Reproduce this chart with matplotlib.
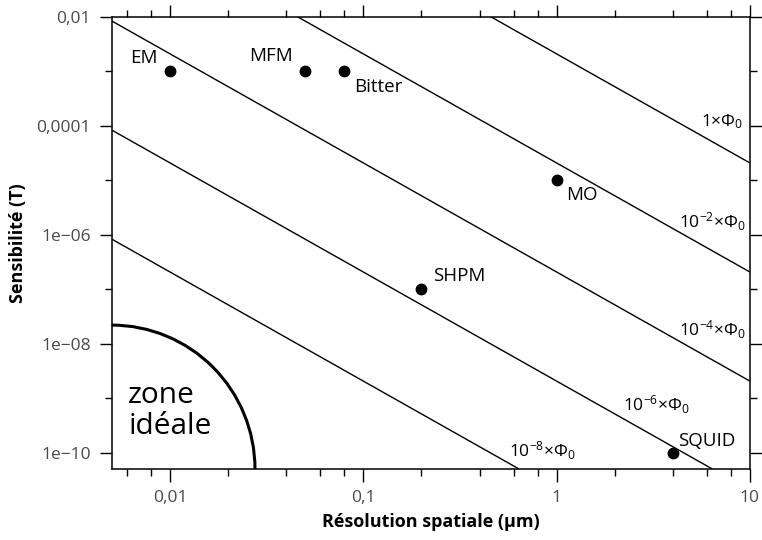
import numpy as np
import matplotlib
matplotlib.use('Agg')
import matplotlib.pyplot as plt
from matplotlib.patches import Arc
from matplotlib.ticker import FixedLocator, FixedFormatter

plt.rcParams['font.family'] = ['Open Sans', 'DejaVu Sans']

# techniques (resolution en um, sensibilite en T)
tech_names = ['EM', 'MFM', 'Bitter', 'MO', 'SHPM', 'SQUID']
tech_res = [0.01, 0.05, 0.08, 1, 0.2, 4]
tech_sens = [1e-3, 1e-3, 1e-3, 1e-5, 1e-7, 1e-10]
# decalage des etiquettes (points), alignement
tech_off = [(-9, 9.5), (-9, 11), (7, -11.5), (7, -11), (8.5, 9.5), (4, 8.5)]
tech_ha = ['right', 'right', 'left', 'left', 'left', 'left']

# lignes de flux constant : extremites
flux_x = [[0.455, 10], [0.0455, 10], [0.005, 10], [0.005, 6.4], [0.005, 0.64]]
flux_y = [[1e-2, 2.07e-5], [1e-2, 2.07e-7], [8.3e-3, 2.07e-9],
          [8.3e-5, 5.05e-11], [8.3e-7, 5.05e-11]]
flux_lab = [r'$\mathregular{1×Φ_0}$', r'$\mathregular{10^{-2}×Φ_0}$',
            r'$\mathregular{10^{-4}×Φ_0}$', r'$\mathregular{10^{-6}×Φ_0}$',
            r'$\mathregular{10^{-8}×Φ_0}$']
flux_lab_x = [9.3, 9.5, 9.5, 2.2, 0.57]
flux_lab_y = [1.2e-4, 1.7e-6, 1.8e-8, 7.7e-10, 1.1e-10]
flux_lab_ha = ['right', 'right', 'right', 'left', 'left']

xticks = [0.01, 0.1, 1, 10]
xticklabels = ['0,01', '0,1', '1', '10']
yticks = [1e-2, 1e-4, 1e-6, 1e-8, 1e-10]
yticklabels = ['0,01', '0,0001', '1e−06', '1e−08', '1e−10']

fig = plt.figure(figsize=(7.62, 5.4), dpi=100)
ax = fig.add_axes([0.1466, 0.1315, 0.8374, 0.8379])
ax.set_xscale('log')
ax.set_yscale('log')
ax.set_xlim(0.005, 10)
ax.set_ylim(5.05e-11, 1e-2)

for xs, ys in zip(flux_x, flux_y):
    ax.plot(xs, ys, color='black', lw=1.0, solid_capstyle='butt')
for lx, ly, lt, ha in zip(flux_lab_x, flux_lab_y, flux_lab, flux_lab_ha):
    ax.text(lx, ly, lt, ha=ha, va='center', fontsize=12.5)

ax.plot(tech_res, tech_sens, 'o', color='black', ms=7.5, zorder=3)
for n, x, y, off, ha in zip(tech_names, tech_res, tech_sens, tech_off, tech_ha):
    ax.annotate(n, (x, y), xytext=off, textcoords='offset points',
                ha=ha, va='center', fontsize=13.5)

# zone ideale
arc = Arc((0, 0), 2*0.2245, 2*0.318, theta1=0, theta2=90,
          transform=ax.transAxes, color='black', lw=2.2, clip_on=False)
ax.add_patch(arc)
ax.text(0.026, 0.128, 'zone\nidéale', transform=ax.transAxes,
        ha='left', va='center', fontsize=21.5, linespacing=1.1)

ax.xaxis.set_major_locator(FixedLocator(xticks))
ax.xaxis.set_major_formatter(FixedFormatter(xticklabels))
xminor = [m*10.0**e for e in range(-3, 1) for m in (2, 4, 6, 8)]
ax.xaxis.set_minor_locator(FixedLocator(xminor))
ax.xaxis.set_minor_formatter(FixedFormatter([''] * len(xminor)))
ax.yaxis.set_major_locator(FixedLocator(yticks))
ax.yaxis.set_major_formatter(FixedFormatter(yticklabels))
yminor = [1e-3, 1e-5, 1e-7, 1e-9]
ax.yaxis.set_minor_locator(FixedLocator(yminor))
ax.yaxis.set_minor_formatter(FixedFormatter([''] * len(yminor)))

ax.tick_params(which='both', direction='out', top=True, right=True,
               width=1.0, colors='black', labelcolor='#4a4a4a', labelsize=12.5)
ax.tick_params(which='major', length=9)
ax.tick_params(which='minor', length=5)
ax.tick_params(axis='y', pad=6)
ax.tick_params(axis='x', pad=6)
for s in ax.spines.values():
    s.set_linewidth(1.1)

ax.set_xlabel('Résolution spatiale (µm)', fontsize=13, fontweight='bold',
              labelpad=5)
ax.set_ylabel('Sensibilité (T)', fontsize=13, fontweight='bold', labelpad=7)

fig.savefig('out.png', dpi=100)
plt.close()
